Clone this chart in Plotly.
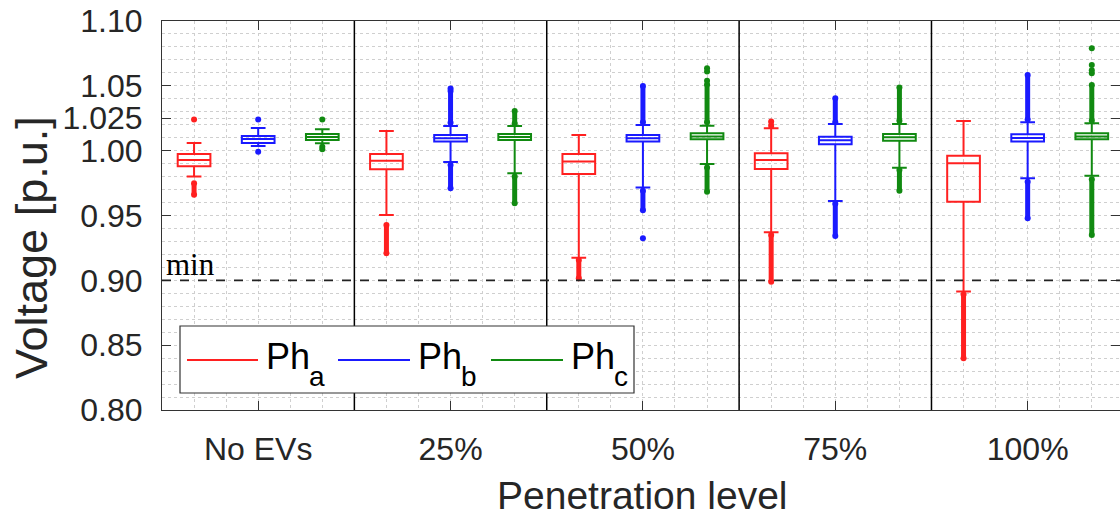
import plotly.graph_objects as go

# ---------------- data ----------------
categories = ["No EVs", "25%", "50%", "75%", "100%"]
phases = ["a", "b", "c"]

# Phase a (red)
a_lower = [0.980, 0.9504, 0.9175, 0.937, 0.8913]
a_q1 = [0.988, 0.9857, 0.982, 0.9859, 0.9607]
a_median = [0.9928, 0.9923, 0.9917, 0.9928, 0.9903]
a_q3 = [0.9975, 0.9975, 0.9975, 0.998, 0.9961]
a_upper = [1.006, 1.0152, 1.0121, 1.0173, 1.0229]
a_low_out = [(0.9749, 0.966), (0.9427, 0.9209), (0.9157, 0.9016), (0.935, 0.899), (0.889, 0.840)]
a_high_out = [None, None, None, (1.019, 1.0224), None]
a_single = [(0, 1.024)]

# Phase b (blue)
b_lower = [1.0036, 0.9913, 0.9715, 0.9612, 0.9787]
b_q1 = [1.006, 1.007, 1.007, 1.0049, 1.007]
b_median = [1.009, 1.0095, 1.0095, 1.008, 1.0098]
b_q3 = [1.0113, 1.0121, 1.0121, 1.0108, 1.0126]
b_upper = [1.0175, 1.019, 1.0198, 1.0206, 1.0219]
b_low_out = [None, (0.989, 0.971), (0.969, 0.954), (0.959, 0.9342), (0.976, 0.9479)]
b_high_out = [None, (1.0215, 1.046), (1.022, 1.0499), (1.022, 1.0404), (1.024, 1.0584)]
b_single = [(0, 1.024), (0, 0.9992), (1, 1.048), (2, 0.9325)]

# Phase c (green)
c_lower = [1.0057, 0.9826, 0.9897, 0.9869, 0.9807]
c_q1 = [1.0083, 1.0083, 1.0088, 1.0077, 1.0088]
c_median = [1.0105, 1.0105, 1.011, 1.0103, 1.011]
c_q3 = [1.0129, 1.0129, 1.0134, 1.0129, 1.0134]
c_upper = [1.0165, 1.019, 1.0193, 1.0206, 1.0211]
c_low_out = [(1.003, 1.001), (0.980, 0.9594), (0.987, 0.9684), (0.985, 0.969), (0.978, 0.935)]
c_high_out = [None, (1.021, 1.0306), (1.022, 1.051), (1.023, 1.0488), (1.023, 1.0507)]
c_single = [(0, 1.024), (2, 1.054), (2, 1.061), (2, 1.0635),
            (4, 1.0597), (4, 1.062), (4, 1.066), (4, 1.079)]

y_tickvals = [0.80, 0.85, 0.90, 0.95, 1.00, 1.025, 1.05, 1.10]
y_ticktext = ["0.80", "0.85", "0.90", "0.95", "1.00", "1.025", "1.05", "1.10"]
min_voltage = 0.90

# ---------------- styling ----------------
colors = {"a": "#ff2020", "b": "#1a1aff", "c": "#118a11"}
offsets = {"a": -1 / 3, "b": 0.0, "c": 1 / 3}
FONT = "Liberation Sans, Arial, sans-serif"
TXT = "#262626"

W, H = 1120, 517
L, R, T, B = 162, 0, 21, 107
PW, PH = W - L - R, H - T - B


def px(xp):
    return (xp - L) / PW


def py(yp):
    return (H - B - yp) / PH


stats = {
    "a": (a_lower, a_q1, a_median, a_q3, a_upper, a_low_out, a_high_out, a_single),
    "b": (b_lower, b_q1, b_median, b_q3, b_upper, b_low_out, b_high_out, b_single),
    "c": (c_lower, c_q1, c_median, c_q3, c_upper, c_low_out, c_high_out, c_single),
}

fig = go.Figure()
cat_pos = list(range(1, len(categories) + 1))

for ph in phases:
    lo, q1, med, q3, up, low_out, high_out, single = stats[ph]
    col = colors[ph]
    xs = [p + offsets[ph] for p in cat_pos]
    # outlier streaks (densely packed outliers)
    sx, sy = [], []
    for i, seg in enumerate(low_out):
        if seg:
            sx += [xs[i], xs[i], None]
            sy += [seg[0], seg[1], None]
    for i, seg in enumerate(high_out):
        if seg:
            sx += [xs[i], xs[i], None]
            sy += [seg[0], seg[1], None]
    fig.add_trace(go.Scatter(x=sx, y=sy, mode="lines+markers",
                             line=dict(color=col, width=5),
                             marker=dict(color=col, size=6),
                             showlegend=False, hoverinfo="skip"))
    fig.add_trace(go.Scatter(x=[xs[i] for i, v in single], y=[v for i, v in single],
                             mode="markers", marker=dict(color=col, size=6),
                             showlegend=False, hoverinfo="skip"))
    fig.add_trace(go.Box(x=xs, q1=q1, median=med, q3=q3,
                         lowerfence=lo, upperfence=up,
                         width=0.17, whiskerwidth=0.45, boxpoints=False,
                         line=dict(color=col, width=2),
                         fillcolor="rgba(0,0,0,0)", showlegend=False,
                         name="Ph" + ph))

shapes = []
# separators
for k in range(len(categories) - 1):
    shapes.append(dict(type="line", xref="x", yref="paper", x0=k + 1.5, x1=k + 1.5,
                       y0=0, y1=1, line=dict(color="black", width=1.5), layer="above"))
# minimum voltage line
shapes.append(dict(type="line", xref="paper", yref="y", x0=0, x1=1,
                   y0=min_voltage, y1=min_voltage,
                   line=dict(color="#222", width=1.6, dash="dash"), layer="above"))
# legend box
shapes.append(dict(type="rect", xref="paper", yref="paper",
                   x0=px(180), x1=px(634), y0=py(393), y1=py(326),
                   line=dict(color="#333", width=1.2), fillcolor="white", layer="above"))
leg_lines = {"a": (187, 258), "b": (338, 410), "c": (491, 563)}
leg_text_x = {"a": 264, "b": 416, "c": 569}
annotations = []
for ph in phases:
    x0, x1 = leg_lines[ph]
    shapes.append(dict(type="line", xref="paper", yref="paper", x0=px(x0), x1=px(x1),
                       y0=py(360), y1=py(360), line=dict(color=colors[ph], width=2),
                       layer="above"))
    annotations.append(dict(xref="paper", yref="paper", x=px(leg_text_x[ph]), y=py(356),
                            xanchor="left", yanchor="middle", showarrow=False,
                            text="Ph", font=dict(family=FONT, size=36, color="black")))
    annotations.append(dict(xref="paper", yref="paper", x=px(leg_text_x[ph] + 43), y=py(376),
                            xanchor="left", yanchor="middle", showarrow=False,
                            text=ph, font=dict(family=FONT, size=28, color="black")))

annotations.append(dict(xref="paper", yref="y", x=px(164), y=min_voltage,
                        xanchor="left", yanchor="bottom", showarrow=False, text="min",
                        yshift=-4,
                        font=dict(family="Liberation Serif, serif", size=31, color="black")))
annotations.append(dict(xref="paper", yref="paper", x=px(31), y=py(248),
                        xanchor="center", yanchor="middle", showarrow=False,
                        text="Voltage [p.u.]", textangle=-90,
                        font=dict(family=FONT, size=45, color=TXT)))
annotations.append(dict(xref="paper", yref="paper", x=px(642), y=py(495),
                        xanchor="center", yanchor="middle", showarrow=False,
                        text="Penetration level",
                        font=dict(family=FONT, size=39, color=TXT)))

fig.update_layout(
    width=W, height=H,
    margin=dict(l=L, r=R, t=T, b=B, pad=0),
    paper_bgcolor="white", plot_bgcolor="white",
    boxmode="overlay",
    shapes=shapes, annotations=annotations,
    showlegend=False,
    font=dict(family=FONT, color=TXT),
)
fig.update_xaxes(
    range=[0.5, 5.48], tickmode="array", tickvals=cat_pos, ticktext=categories,
    ticks="inside", ticklen=9, tickcolor="#333", showline=True, linecolor="#333",
    linewidth=1, mirror="ticks", showgrid=True, gridcolor="#cfcfcf", griddash="dot",
    gridwidth=1, zeroline=False, ticklabelstandoff=11,
    tickfont=dict(family=FONT, size=32, color=TXT),
    minor=dict(tickmode="linear", tick0=0.5, dtick=1 / 6, showgrid=True,
               gridcolor="#cfcfcf", griddash="dot", gridwidth=1, ticks=""),
)
fig.update_yaxes(
    range=[0.80, 1.10], tickmode="array", tickvals=y_tickvals, ticktext=y_ticktext,
    ticks="inside", ticklen=9, tickcolor="#333", showline=True, linecolor="#333",
    linewidth=1, mirror="ticks", showgrid=True, gridcolor="#cfcfcf", griddash="dot",
    gridwidth=1, zeroline=False, ticklabelstandoff=12,
    tickfont=dict(family=FONT, size=32, color=TXT),
    minor=dict(tickmode="linear", tick0=0.8, dtick=0.01, showgrid=True,
               gridcolor="#cfcfcf", griddash="dot", gridwidth=1, ticks=""),
)

fig.write_html("out.html")
